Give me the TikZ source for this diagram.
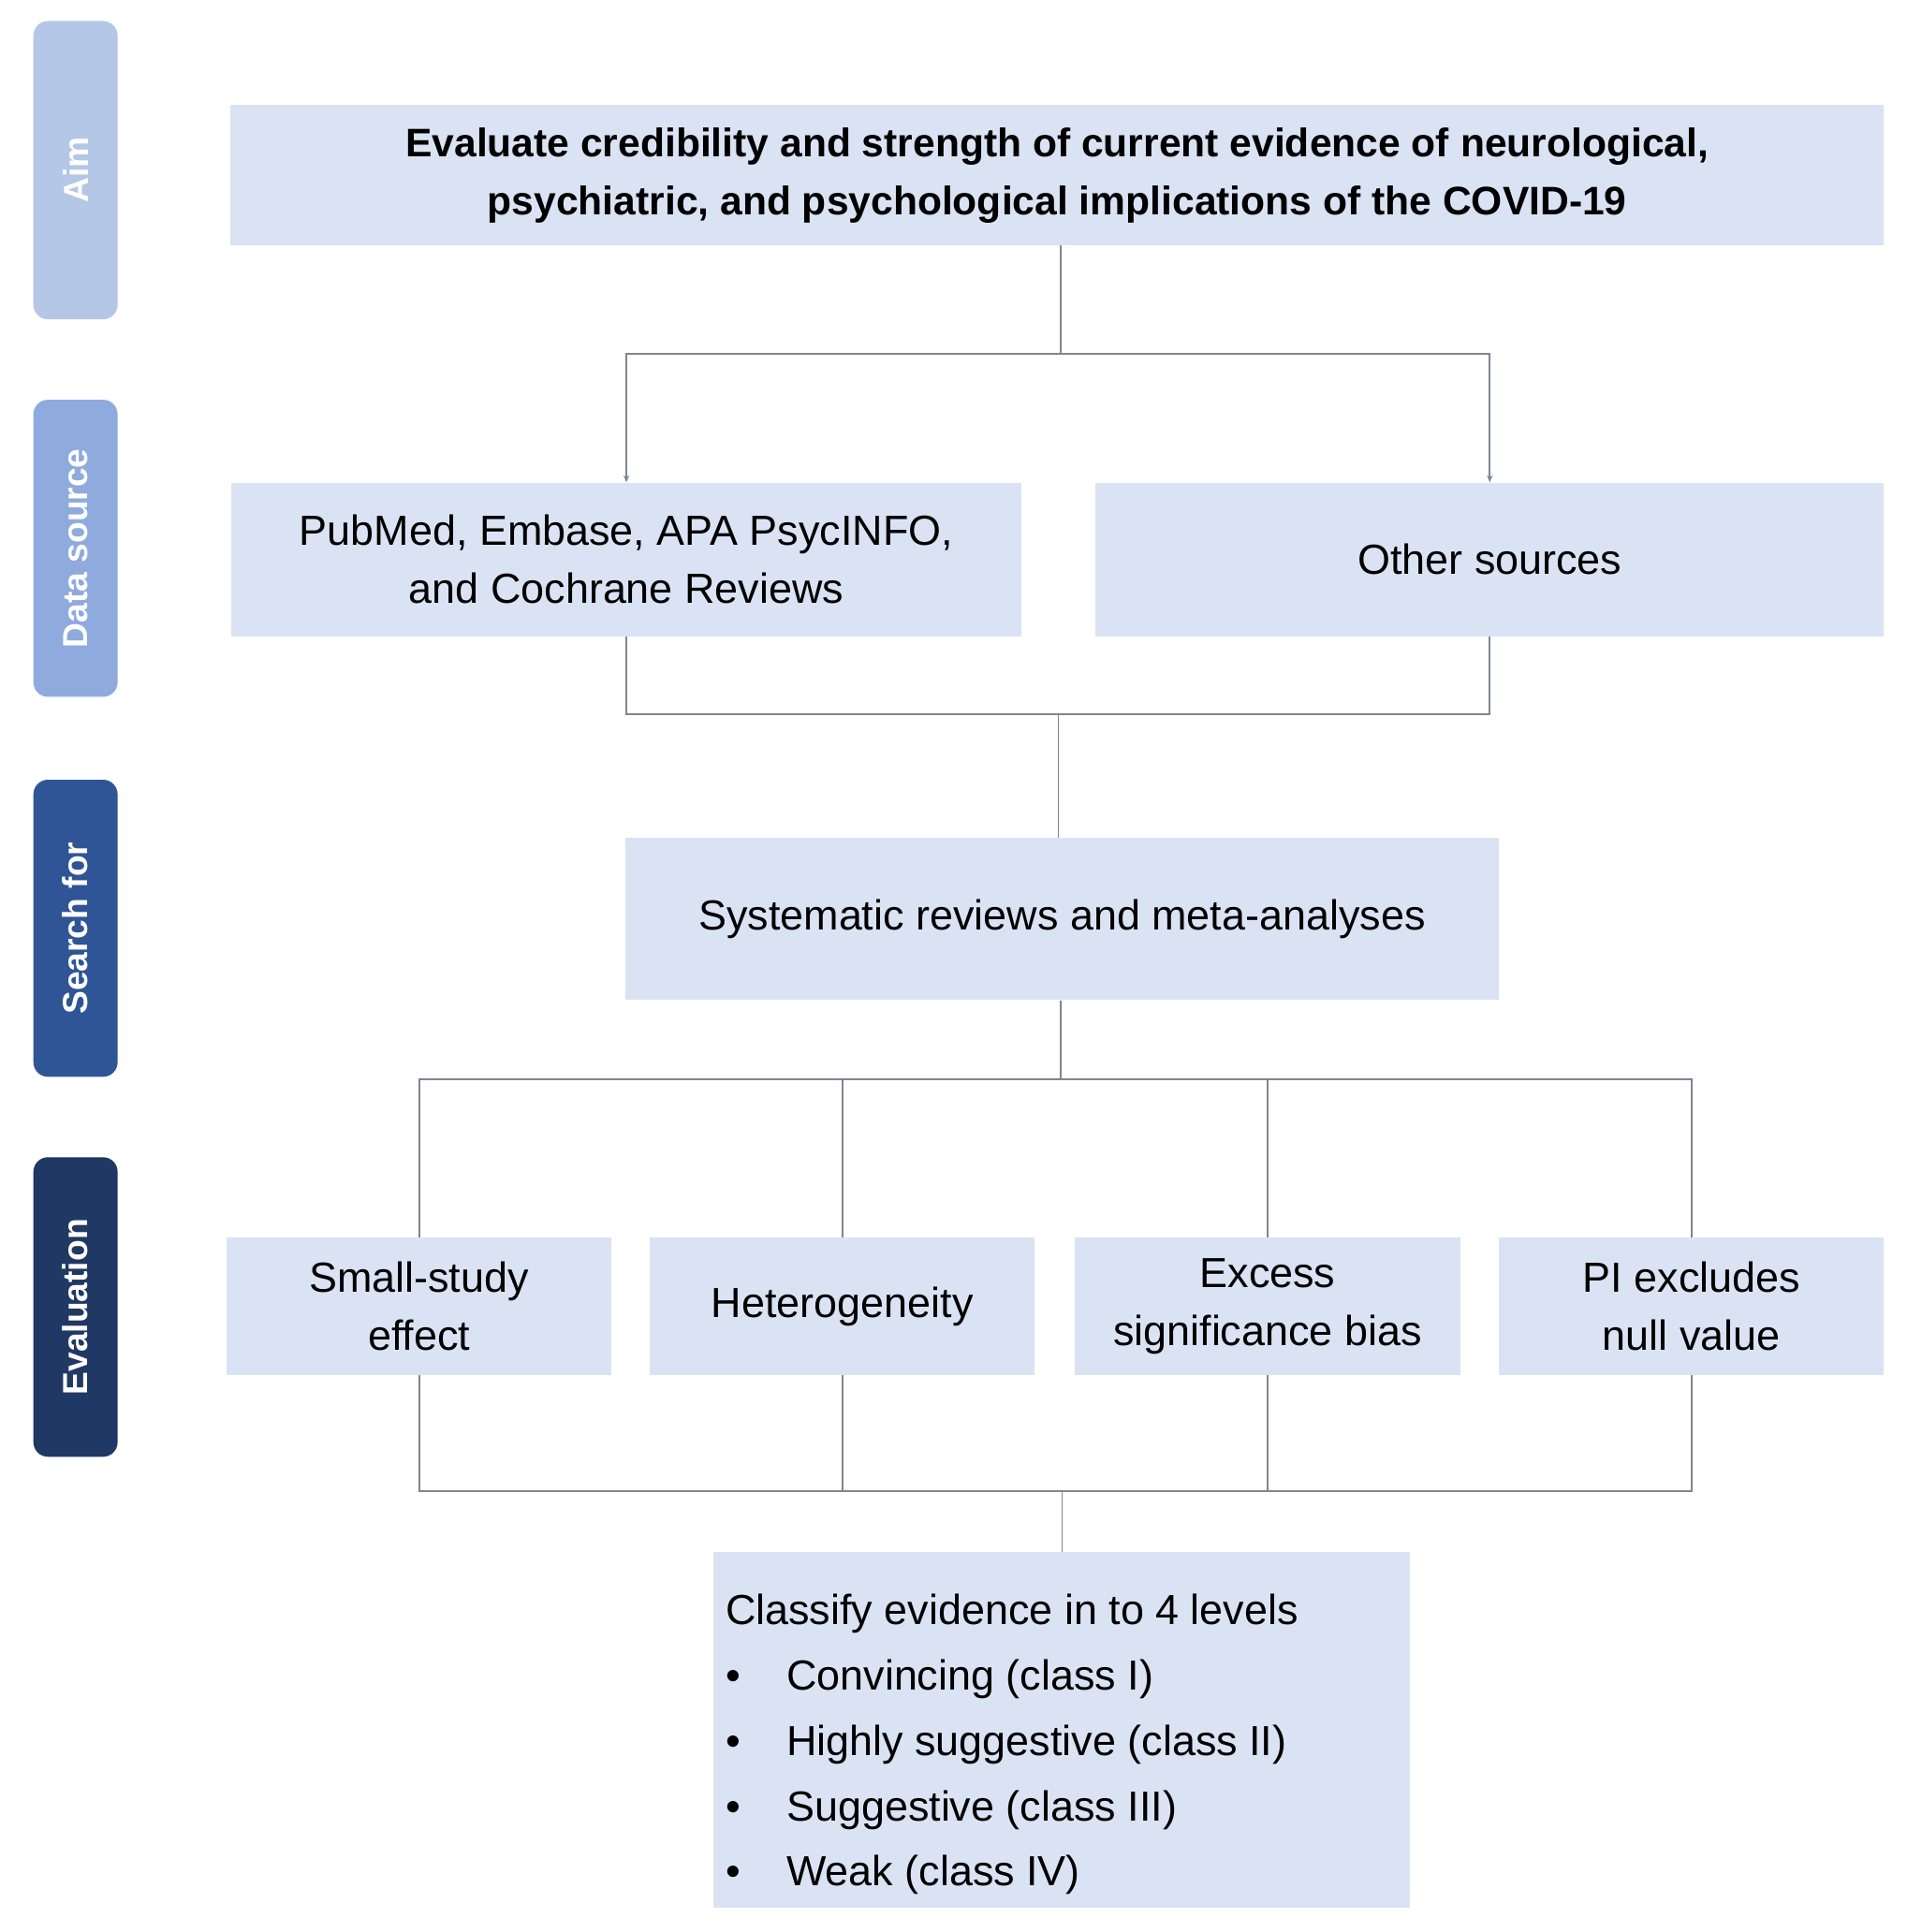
\documentclass[tikz,border=0pt]{standalone}
\usepackage{fontspec}
\setmainfont{Liberation Sans}
\usetikzlibrary{arrows.meta}
\definecolor{boxc}{HTML}{DAE3F3}
\definecolor{t1}{HTML}{B4C7E7}
\definecolor{t2}{HTML}{8FAADC}
\definecolor{t3}{HTML}{2F5597}
\definecolor{t4}{HTML}{203864}
\definecolor{ln}{HTML}{7F8690}
\begin{document}
\begin{tikzpicture}[x=0.03cm,y=-0.03cm,
 tab/.style={rounded corners=10pt,draw=none},
 tabt/.style={rotate=90,text=white,font=\fontsize{24}{28}\selectfont\bfseries},
 box/.style={fill=boxc,draw=none,align=center,font=\fontsize{29}{40}\selectfont},
 con/.style={draw=ln,line width=1.2pt},
 arr/.style={con,-{Stealth[length=5pt,width=4pt]}}]
\useasboundingbox (0,0) rectangle (1552,1561);
\fill[white] (0,0) rectangle (1552,1561);
% tabs
\fill[t1,tab] (27,17) rectangle (95,258);
\fill[t2,tab] (27,323) rectangle (95,563);
\fill[t3,tab] (27,630) rectangle (95,870);
\fill[t4,tab] (27,935) rectangle (95,1177);
\node[tabt] (ta) at (61,137) {Aim};
\node[tabt] (tb) at (61,443) {Data source};
\node[tabt] (tc) at (61,750) {Search for};
\node[tabt] (td) at (61,1056) {Evaluation};
% boxes
\node[box,minimum width=1336*0.03cm,minimum height=113*0.03cm,font=\fontsize{27.5}{40}\selectfont\bfseries] (aim) at (854,141.5)
 {Evaluate credibility and strength of current evidence of neurological,\\psychiatric, and psychological implications of the COVID-19};
\node[box,minimum width=638*0.03cm,minimum height=124*0.03cm] (db) at (506,452)
 {PubMed, Embase, APA PsycINFO,\\and Cochrane Reviews};
\node[box,minimum width=637*0.03cm,minimum height=124*0.03cm] (os) at (1203.5,452) {Other sources};
\node[box,minimum width=706*0.03cm,minimum height=131*0.03cm] (sr) at (858,742.5) {Systematic reviews and meta-analyses};
\node[box,minimum width=311*0.03cm,minimum height=111*0.03cm] (e1) at (338.5,1055.5) {Small-study\\effect};
\node[box,minimum width=311*0.03cm,minimum height=111*0.03cm] (e2) at (680.5,1055.5) {Heterogeneity};
\node[box,minimum width=312*0.03cm,minimum height=111*0.03cm] (e3) at (1024,1055.5) {Excess\\significance bias};
\node[box,minimum width=311*0.03cm,minimum height=111*0.03cm] (e4) at (1366.5,1055.5) {PI excludes\\null value};
\node[box,minimum width=563*0.03cm,minimum height=287*0.03cm,align=left,anchor=north west,inner sep=0pt] (cl) at (576,1254) {};
\node[anchor=north west,align=left,font=\fontsize{29}{45}\selectfont,inner sep=0pt] (cltext) at (586,1288)
 {Classify evidence in to 4 levels\\
 \makebox[42pt][l]{\textbullet}Convincing (class I)\\
 \makebox[42pt][l]{\textbullet}Highly suggestive (class II)\\
 \makebox[42pt][l]{\textbullet}Suggestive (class III)\\
 \makebox[42pt][l]{\textbullet}Weak (class IV)};
% connectors
\coordinate (j1) at (857,286);
\draw[con] (aim.south -| j1) -- (j1);
\draw[arr] (j1) -| (db.north);
\draw[arr] (j1) -| (os.north);
\coordinate (j2) at (855,577);
\draw[con] (db.south) |- (j2);
\draw[con] (os.south) |- (j2);
\draw[con] (j2) -- (sr.north -| j2);
\coordinate (j3) at (857,872);
\draw[con] (sr.south -| j3) -- (j3);
\draw[con] (j3) -| (e1.north);
\draw[con] (j3) -| (e2.north);
\draw[con] (j3) -| (e3.north);
\draw[con] (j3) -| (e4.north);
\coordinate (j4) at (858,1205);
\draw[con] (e1.south) |- (j4);
\draw[con] (e2.south) |- (j4);
\draw[con] (e3.south) |- (j4);
\draw[con] (e4.south) |- (j4);
\draw[con] (j4) -- (cl.north -| j4);
\end{tikzpicture}
\end{document}
